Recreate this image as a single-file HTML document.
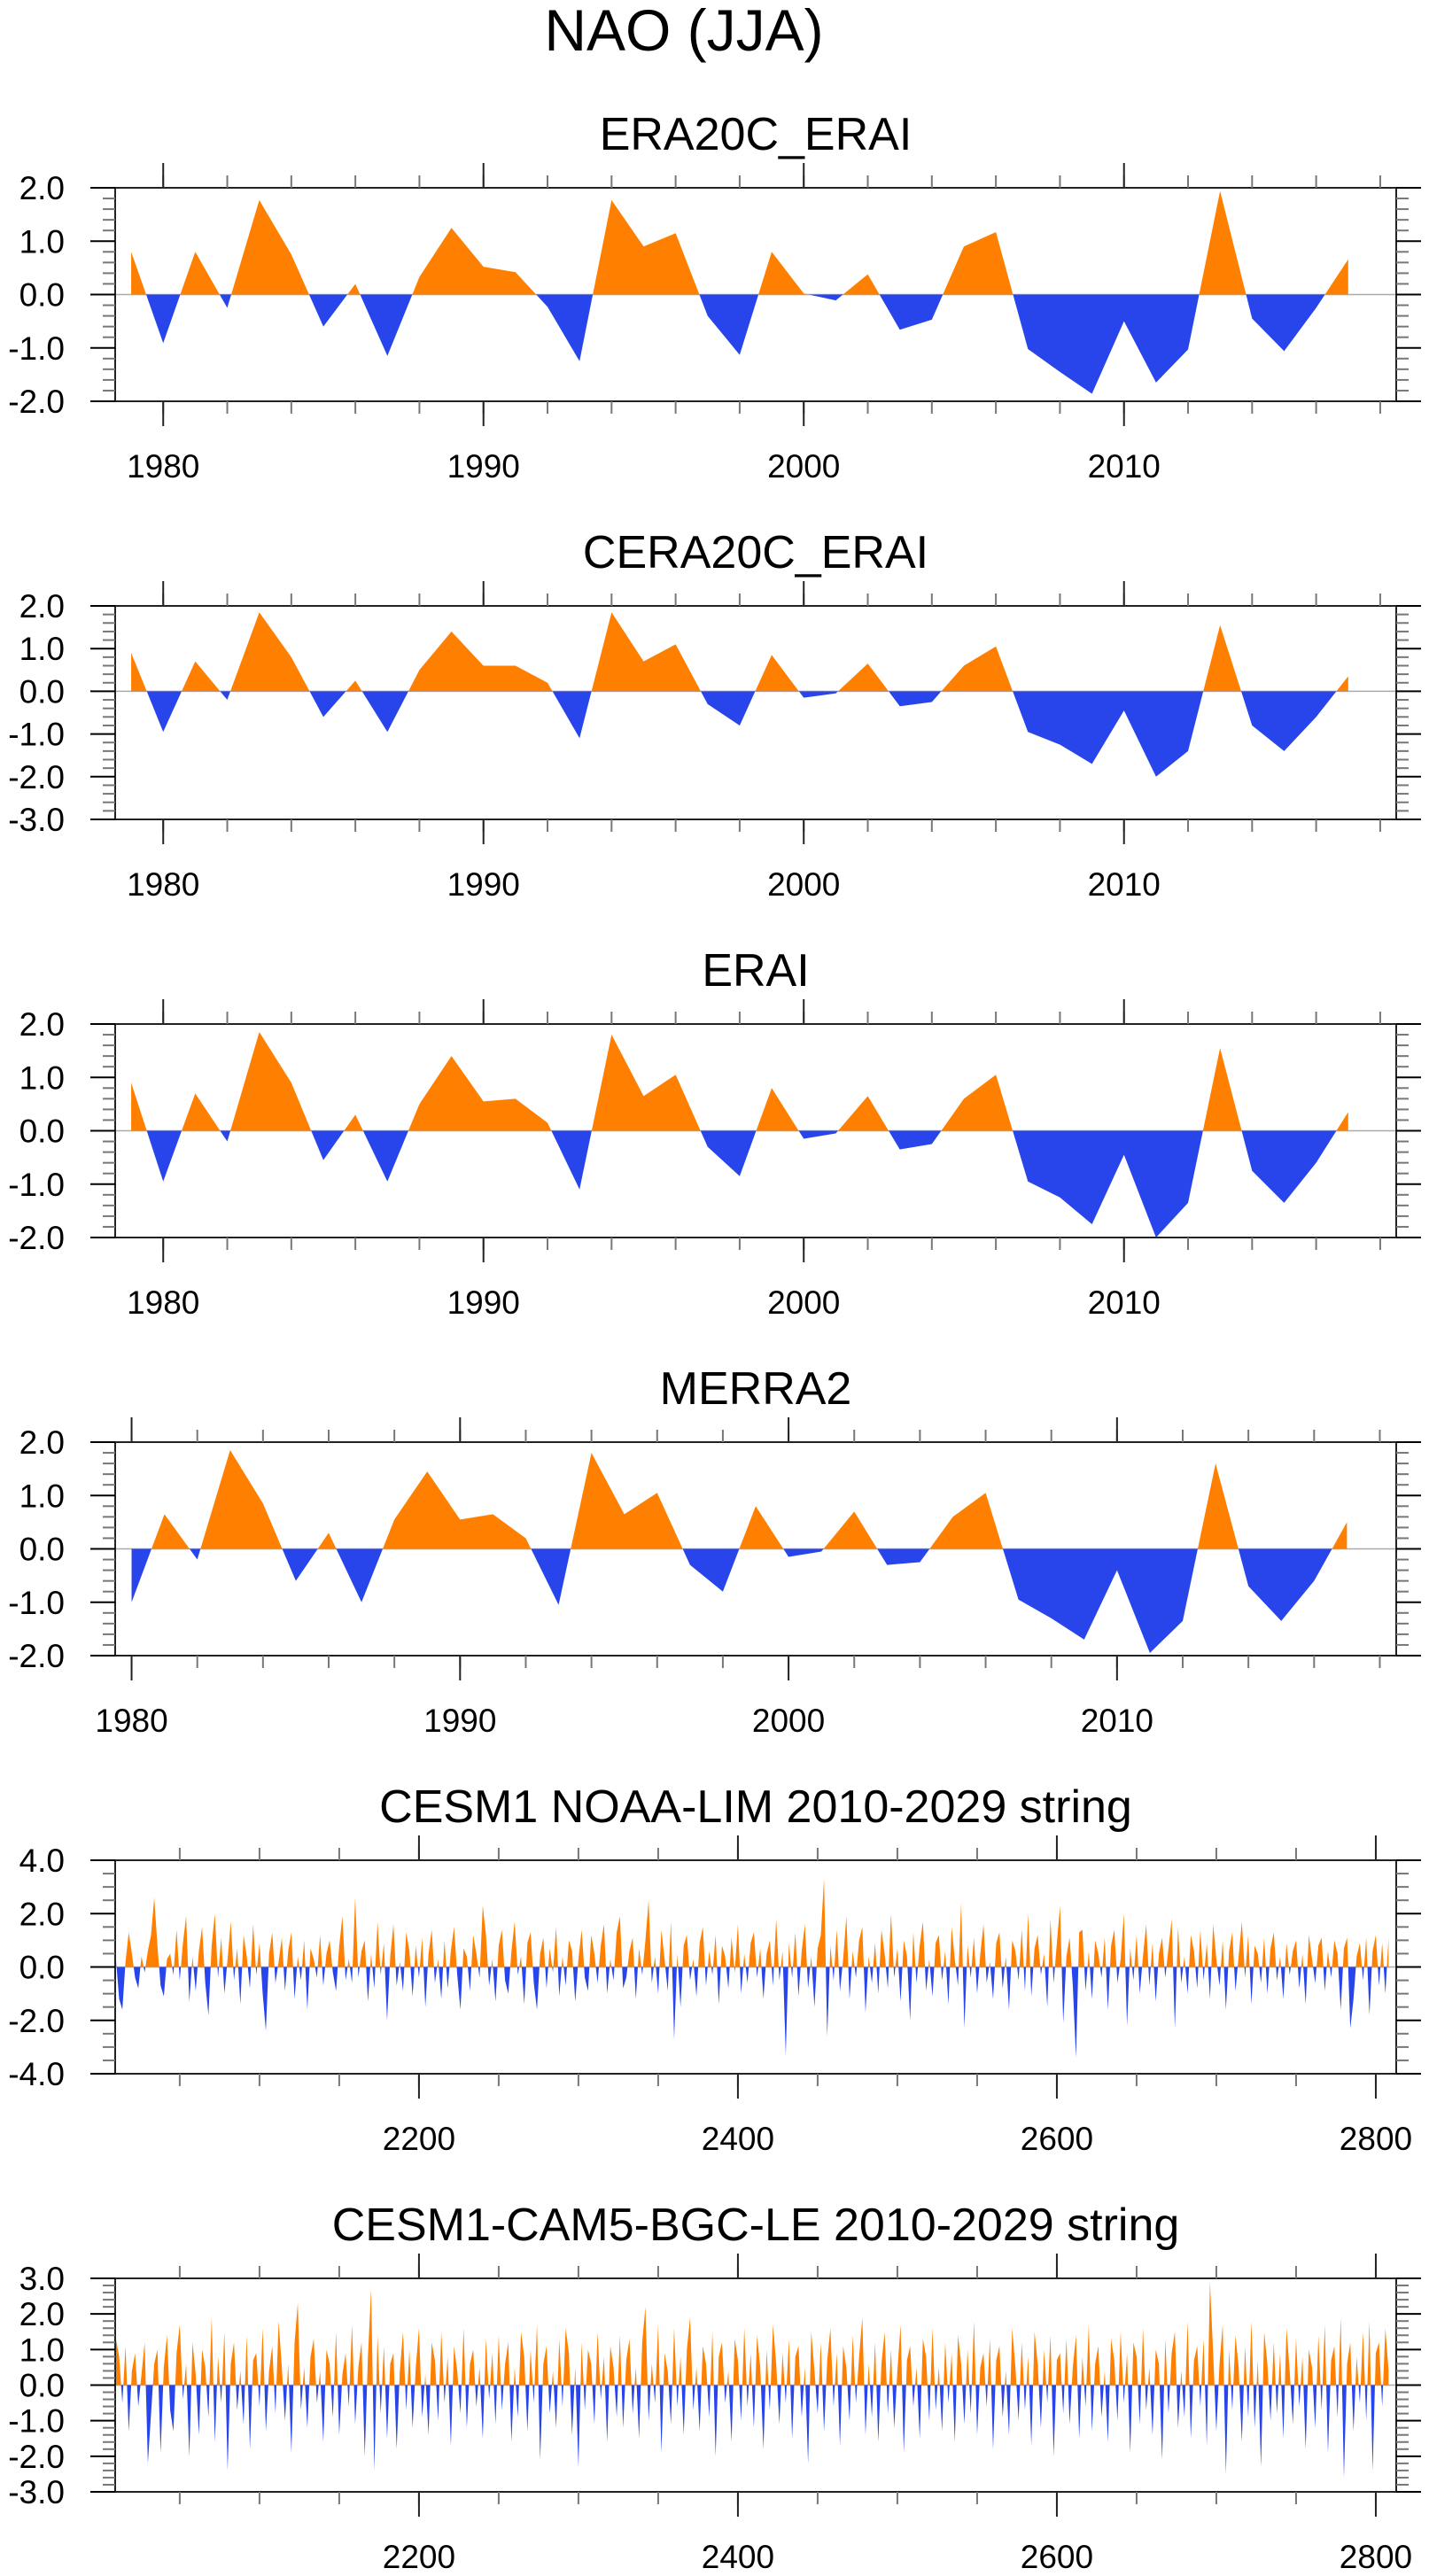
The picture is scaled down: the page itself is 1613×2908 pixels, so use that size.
<!DOCTYPE html>
<html><head><meta charset="utf-8"><style>
html,body{margin:0;padding:0;background:#fff;}
svg{display:block;font-family:"Liberation Sans",Arial,sans-serif;}
</style></head>
<body>
<svg id="chart" width="1613" height="2908" viewBox="0 0 1613 2908" xmlns="http://www.w3.org/2000/svg">
<text x="772" y="57" font-size="66" text-anchor="middle" fill="#000">NAO (JJA)</text>
</svg>
<script>
// ---- data ----
const yearsERA20C = [1979,1980,1981,1982,1983,1984,1985,1986,1987,1988,1989,1990,1991,1992,1993,1994,1995,1996,1997,1998,1999,2000,2001,2002,2003,2004,2005,2006,2007,2008,2009,2010,2011,2012,2013,2014,2015,2016,2017];
const valsERA20C = [0.80,-0.91,0.80,-0.25,1.77,0.75,-0.60,0.20,-1.15,0.33,1.25,0.52,0.42,-0.23,-1.25,1.77,0.90,1.15,-0.40,-1.13,0.80,0.02,-0.11,0.38,-0.66,-0.47,0.90,1.17,-1.02,-1.45,-1.86,-0.50,-1.65,-1.03,1.94,-0.45,-1.06,-0.25,0.66];
const yearsCERA20C = [1979,1980,1981,1982,1983,1984,1985,1986,1987,1988,1989,1990,1991,1992,1993,1994,1995,1996,1997,1998,1999,2000,2001,2002,2003,2004,2005,2006,2007,2008,2009,2010,2011,2012,2013,2014,2015,2016,2017];
const valsCERA20C = [0.9,-0.95,0.7,-0.2,1.85,0.8,-0.6,0.25,-0.95,0.5,1.4,0.6,0.6,0.2,-1.1,1.85,0.7,1.1,-0.3,-0.8,0.85,-0.15,-0.05,0.65,-0.35,-0.25,0.6,1.05,-0.95,-1.25,-1.7,-0.45,-2.0,-1.4,1.55,-0.8,-1.4,-0.6,0.35];
const yearsERAI = [1979,1980,1981,1982,1983,1984,1985,1986,1987,1988,1989,1990,1991,1992,1993,1994,1995,1996,1997,1998,1999,2000,2001,2002,2003,2004,2005,2006,2007,2008,2009,2010,2011,2012,2013,2014,2015,2016,2017];
const valsERAI = [0.9,-0.95,0.7,-0.2,1.85,0.9,-0.55,0.3,-0.95,0.5,1.4,0.55,0.6,0.15,-1.1,1.8,0.65,1.05,-0.3,-0.85,0.8,-0.15,-0.05,0.65,-0.35,-0.25,0.6,1.05,-0.95,-1.25,-1.75,-0.45,-2.0,-1.35,1.55,-0.75,-1.35,-0.6,0.35];
const yearsMERRA2 = [1980,1981,1982,1983,1984,1985,1986,1987,1988,1989,1990,1991,1992,1993,1994,1995,1996,1997,1998,1999,2000,2001,2002,2003,2004,2005,2006,2007,2008,2009,2010,2011,2012,2013,2014,2015,2016,2017];
const valsMERRA2 = [-1.0,0.65,-0.2,1.85,0.85,-0.6,0.3,-1.0,0.55,1.45,0.55,0.65,0.2,-1.05,1.8,0.65,1.05,-0.3,-0.8,0.8,-0.15,-0.05,0.7,-0.3,-0.25,0.6,1.05,-0.95,-1.3,-1.7,-0.4,-1.95,-1.35,1.6,-0.7,-1.35,-0.6,0.5];
const startLIM = 2010;
const stepLIM = 2;
const valsLIM = [0.3,-1.2,-1.6,0.2,1.3,0.5,-0.4,-0.8,0.4,-0.2,0.6,1.2,2.6,0.8,-0.7,-1.1,0.3,0.5,-0.3,1.4,
-0.5,0.9,1.9,-1.3,0.4,-0.9,0.6,1.5,-0.6,-1.8,0.8,2.0,-0.4,1.1,-1.0,0.3,1.7,-0.5,0.7,-1.4,
1.2,0.4,-0.8,1.6,-0.3,0.9,-1.0,-2.4,0.5,1.3,-0.6,0.2,1.1,-0.9,0.6,1.3,-1.2,0.4,-0.5,1.0,
-1.6,0.7,0.3,-0.4,1.2,-0.7,0.5,1.0,-0.2,-0.9,0.8,1.9,-0.5,0.3,-0.6,2.6,-0.4,0.6,1.0,-1.3,
0.5,-0.8,1.7,-0.3,0.9,-2.0,0.4,1.6,-0.7,0.2,-0.9,1.3,0.6,-1.1,0.8,-0.4,1.1,-1.5,0.5,1.4,
-0.6,0.3,-1.2,1.0,-0.8,0.6,1.5,-0.3,-1.6,0.7,0.4,-0.9,1.2,0.5,-0.4,2.3,1.2,-0.7,0.3,-1.3,
0.8,1.4,-0.5,-1.0,0.6,1.7,-0.3,0.4,-1.4,0.9,1.3,-0.6,-1.6,0.5,1.1,-0.8,0.7,-0.2,1.5,-1.1,
0.4,-0.7,1.0,0.6,-1.3,0.3,1.4,-0.4,-0.9,1.2,0.5,-0.6,0.8,1.6,-1.0,0.3,-0.5,1.3,1.9,-0.8,
-0.4,0.6,1.1,-1.2,0.7,-0.3,1.0,2.5,-0.6,0.4,-1.0,1.4,0.3,-0.9,1.7,-2.7,0.5,-1.5,0.8,1.2,
-0.5,0.3,-1.1,0.9,1.5,-0.7,0.6,-0.3,1.2,-1.4,0.8,0.4,-0.8,1.1,-0.2,1.6,-1.0,0.5,-0.6,0.9,
1.3,-0.4,0.7,-1.2,0.5,1.0,-0.7,1.8,-0.5,0.6,-3.3,0.9,-0.4,1.3,-1.1,0.6,1.6,-0.8,0.4,-1.5,
0.7,1.2,3.3,-2.6,0.8,-0.5,1.4,-0.9,0.3,1.9,-1.2,0.6,-0.4,1.0,1.5,-1.7,0.4,-0.6,0.9,-1.0,
1.4,0.5,-0.8,2.0,-0.4,0.7,-1.3,1.0,0.4,-2.0,1.3,-0.6,0.8,1.7,-0.9,0.3,-1.1,0.9,1.2,-0.5,
0.6,-1.4,1.5,0.3,-0.7,2.4,-2.3,0.8,-0.4,1.1,-1.0,0.5,1.6,-0.6,0.2,-1.2,0.9,1.3,-0.8,0.4,
-1.6,1.0,0.6,-0.5,1.4,-0.9,2.0,-1.1,0.7,1.2,-0.3,0.5,-1.5,1.8,-0.6,0.9,2.3,-2.1,0.4,1.1,
-0.7,-3.4,1.3,1.4,-0.9,0.6,-1.2,1.0,0.5,-0.4,1.1,-1.6,0.8,1.4,-0.6,0.3,2.0,-2.2,0.7,-0.5,
1.2,-1.0,0.4,1.6,-0.7,0.9,-1.3,0.5,1.1,-0.4,0.7,1.8,-2.3,1.5,-0.6,0.4,-1.0,1.2,0.6,-0.8,
1.4,-0.5,0.9,-1.2,1.6,0.3,-0.7,1.0,-1.6,0.6,1.3,-0.9,0.4,1.7,-0.4,1.2,-1.4,0.8,0.5,-0.6,
1.1,-1.0,0.7,1.3,-0.5,0.4,-1.2,0.9,-0.3,0.6,1.0,-0.8,0.5,-1.4,1.2,0.3,-0.6,0.8,1.1,-0.9,
0.6,-0.4,1.0,0.5,-1.6,0.7,1.1,-2.3,-1.2,0.4,0.9,-0.5,1.1,-1.8,0.6,1.2,-0.7,0.9,-1.0,1.1];
const startBGC = 2010;
const stepBGC = 2;
const valsBGC = [1.3,0.8,-0.5,1.1,-1.3,0.4,0.9,-0.6,0.3,1.2,-2.2,-0.8,0.6,1.0,-1.9,0.5,1.4,-0.7,-1.3,0.9,
1.7,-0.4,0.6,-2.0,1.2,0.3,-1.4,1.0,0.5,-0.9,1.9,-1.6,0.8,-0.5,1.5,-2.4,0.6,1.2,-0.7,0.4,
-1.1,1.4,-1.8,0.7,0.9,-0.6,1.6,-1.3,0.4,1.1,-0.8,1.8,0.5,-1.0,0.6,-1.9,1.2,2.3,-0.7,0.5,
-1.2,0.8,1.3,-0.5,0.4,-1.6,1.0,0.6,-0.9,1.5,-1.4,0.3,0.9,-0.6,1.7,-1.1,0.5,1.2,-2.0,0.8,
2.7,-2.4,1.4,-0.8,1.1,-1.5,0.6,0.9,-1.8,0.4,1.5,-0.7,1.0,-1.2,0.5,1.6,-0.9,0.3,-1.4,1.2,
0.7,-1.0,1.5,-0.5,0.8,-1.7,1.1,0.4,-0.8,1.6,-1.2,0.6,1.0,-0.6,0.5,-1.5,1.3,-0.4,0.9,-1.1,
1.4,-0.7,0.6,1.2,-1.6,0.5,-0.9,1.5,0.8,-1.3,1.0,-0.5,1.7,-2.1,0.6,1.1,-0.8,0.4,-1.2,1.3,
-0.6,1.6,0.9,-1.4,0.5,-2.3,1.2,-0.7,1.0,0.6,-1.1,1.5,-0.4,0.8,-1.6,1.1,0.5,-0.9,1.4,-1.2,
0.7,1.3,-0.8,0.5,-1.5,1.2,2.2,-1.0,0.6,-0.5,1.7,-1.9,0.9,0.4,-1.1,1.6,-0.6,0.8,-1.4,1.0,
1.9,-0.7,0.5,-1.3,1.1,0.6,-0.9,1.5,-2.0,0.8,1.2,-0.5,0.4,-1.6,1.3,0.7,-1.0,1.6,-0.6,0.9,
-1.2,1.4,0.5,-1.8,1.0,-0.7,1.7,0.6,-1.1,0.9,-0.5,1.3,-1.5,0.8,1.1,-0.9,0.5,-2.2,1.5,0.4,
-0.8,1.2,-1.3,0.7,1.6,-0.6,0.9,-1.7,1.1,0.5,-1.0,1.4,-0.5,0.8,1.9,-1.4,0.6,-0.9,1.2,-1.6,
0.6,1.5,-0.8,1.0,-1.2,0.4,1.7,-1.9,0.7,1.1,-0.6,0.5,-1.5,1.3,0.8,-1.0,1.6,-0.7,0.5,-1.3,
1.2,-0.5,0.9,-1.6,1.4,0.6,-1.1,1.0,-0.8,1.8,-1.4,0.5,0.9,-0.6,1.3,-1.8,0.7,1.1,-0.9,0.4,
-1.4,1.6,0.5,-1.0,1.2,-0.7,0.8,-1.7,1.5,0.6,-1.2,1.0,-0.5,1.4,-2.0,0.7,0.9,-0.8,1.3,-1.1,
0.5,1.4,-1.5,0.8,-0.6,1.7,-1.3,0.6,1.1,-0.9,0.4,-1.6,1.3,0.7,-1.0,1.5,-0.5,0.9,-1.9,1.2,
0.8,-1.1,1.6,-0.7,0.5,-1.4,1.0,0.6,-2.1,1.3,-0.8,0.9,1.5,-1.2,0.4,-0.9,1.8,-1.5,0.7,1.1,
-0.6,1.3,-1.7,2.9,0.9,-1.3,0.6,1.7,-2.5,1.0,-0.7,1.4,0.5,-1.6,1.1,-0.9,1.8,-1.2,0.7,-2.3,
1.5,0.6,-1.0,1.2,-0.8,0.9,-1.5,1.6,0.4,-1.1,1.3,-0.6,0.8,-1.8,1.0,0.5,-1.2,1.4,-0.7,1.7,
-1.9,0.7,1.1,-0.9,1.9,-2.6,0.6,1.2,-1.3,0.8,-0.5,1.5,-1.0,1.8,-2.4,0.9,1.2,-0.6,1.6,0.4];
const xTicksYears = [1980,1990,2000,2010];
const xTicksString = [2200,2400,2600,2800];

// ---- layout ----
const NS = "http://www.w3.org/2000/svg";
const svg = document.getElementById('chart');
const L = 130, R = 1576, H = 241;
const ORANGE = '#ff8000', BLUE = '#2845eb';
let clipId = 0;

function el(tag, attrs, parent) {
  const e = document.createElementNS(NS, tag);
  for (const k in attrs) e.setAttribute(k, attrs[k]);
  (parent || svg).appendChild(e);
  return e;
}

function drawPanel(p) {
  const top = p.top, bot = top + H;
  const g = el('g', {});
  
  
  const xs = v => L + (v - p.xmin) / (p.xmax - p.xmin) * (R - L);
  const ys = v => bot - (v - p.ymin) / (p.ymax - p.ymin) * H;
  const z = ys(0);

  const t = el('text', {x: (L + R) / 2, y: top - 43, 'font-size': 52, 'text-anchor': 'middle', fill: '#000'}, g);
  t.textContent = p.title;
  
  

  // zero line
  const zl = el('line', {x1: L, x2: R, y1: z, y2: z, stroke: '#aaa', 'stroke-width': 1.5}, g);
  
  

  // area series
  let d = 'M' + xs(p.xv[0]).toFixed(2) + ',' + z.toFixed(2);
  for (let i = 0; i < p.vals.length; i++) d += 'L' + xs(p.xv[i]).toFixed(2) + ',' + ys(p.vals[i]).toFixed(2);
  d += 'L' + xs(p.xv[p.xv.length - 1]).toFixed(2) + ',' + z.toFixed(2) + 'Z';
  const defs = el('defs', {}, g);
  const ca = 'ca' + (clipId++), cb = 'cb' + (clipId++);
  const c1 = el('clipPath', {id: ca}, defs);
  el('rect', {x: L, y: top, width: R - L, height: z - top}, c1);
  const c2 = el('clipPath', {id: cb}, defs);
  el('rect', {x: L, y: z, width: R - L, height: bot - z}, c2);
  const pos = el('path', {d: d, fill: ORANGE, 'clip-path': 'url(#' + ca + ')'}, g);
  
  
  const neg = el('path', {d: d, fill: BLUE, 'clip-path': 'url(#' + cb + ')'}, g);
  
  

  // frame
  const fr = el('rect', {x: L, y: top, width: R - L, height: H, fill: 'none', stroke: '#222', 'stroke-width': 2}, g);
  
  

  // y ticks
  const nMin = Math.round((p.ymax - p.ymin) / p.yminor);
  for (let i = 0; i <= nMin; i++) {
    const v = p.ymin + i * p.yminor;
    const y = ys(v);
    const isMajor = Math.abs(v / p.ymajor - Math.round(v / p.ymajor)) < 1e-6;
    const len = isMajor ? 28 : 14;
    el('line', {x1: L - len, x2: L, y1: y, y2: y, stroke: isMajor ? '#000' : '#777', 'stroke-width': 2}, g);
    el('line', {x1: R, x2: R + len, y1: y, y2: y, stroke: isMajor ? '#000' : '#777', 'stroke-width': 2}, g);
    if (isMajor) {
      const lb = el('text', {x: 73, y: y + 13, 'font-size': 37, 'text-anchor': 'end', fill: '#000'}, g);
      lb.textContent = v.toFixed(1);
      
      
    }
  }
  // x minor ticks
  for (let v = p.xminorStart; v <= p.xmax; v += p.xminor) {
    if (v < p.xmin) continue;
    const x = xs(v);
    el('line', {x1: x, x2: x, y1: top - 14, y2: top, stroke: '#777', 'stroke-width': 2}, g);
    el('line', {x1: x, x2: x, y1: bot, y2: bot + 14, stroke: '#777', 'stroke-width': 2}, g);
  }
  // x major ticks
  p.xticks.forEach(v => {
    const x = xs(v);
    el('line', {x1: x, x2: x, y1: top - 28, y2: top, stroke: '#222', 'stroke-width': 2}, g);
    el('line', {x1: x, x2: x, y1: bot, y2: bot + 28, stroke: '#222', 'stroke-width': 2}, g);
    const lb = el('text', {x: x, y: bot + 86, 'font-size': 37, 'text-anchor': 'middle', fill: '#000'}, g);
    lb.textContent = String(v);
    
    
  });
}

const idxX = (start, step, arr) => arr.map((_, i) => start + i * step);

drawPanel({name: 'era20c-erai', title: 'ERA20C_ERAI', top: 212, xmin: 1978.5, xmax: 2018.5, ymin: -2, ymax: 2, ymajor: 1, yminor: 0.2,
  xv: yearsERA20C, vals: valsERA20C, xticks: xTicksYears, xminor: 2, xminorStart: 1980});
drawPanel({name: 'cera20c-erai', title: 'CERA20C_ERAI', top: 684, xmin: 1978.5, xmax: 2018.5, ymin: -3, ymax: 2, ymajor: 1, yminor: 0.2,
  xv: yearsCERA20C, vals: valsCERA20C, xticks: xTicksYears, xminor: 2, xminorStart: 1980});
drawPanel({name: 'erai', title: 'ERAI', top: 1156, xmin: 1978.5, xmax: 2018.5, ymin: -2, ymax: 2, ymajor: 1, yminor: 0.2,
  xv: yearsERAI, vals: valsERAI, xticks: xTicksYears, xminor: 2, xminorStart: 1980});
drawPanel({name: 'merra2', title: 'MERRA2', top: 1628, xmin: 1979.5, xmax: 2018.5, ymin: -2, ymax: 2, ymajor: 1, yminor: 0.2,
  xv: yearsMERRA2, vals: valsMERRA2, xticks: xTicksYears, xminor: 2, xminorStart: 1980});
drawPanel({name: 'cesm1-noaa-lim', title: 'CESM1 NOAA-LIM 2010-2029 string', top: 2100, xmin: 2009.5, xmax: 2812.8, ymin: -4, ymax: 4, ymajor: 2, yminor: 0.5,
  xv: idxX(startLIM, stepLIM, valsLIM), vals: valsLIM, xticks: xTicksString, xminor: 50, xminorStart: 2050});
drawPanel({name: 'cesm1-cam5-bgc-le', title: 'CESM1-CAM5-BGC-LE 2010-2029 string', top: 2572, xmin: 2009.5, xmax: 2812.8, ymin: -3, ymax: 3, ymajor: 1, yminor: 0.2,
  xv: idxX(startBGC, stepBGC, valsBGC), vals: valsBGC, xticks: xTicksString, xminor: 50, xminorStart: 2050});
</script>
</body></html>
